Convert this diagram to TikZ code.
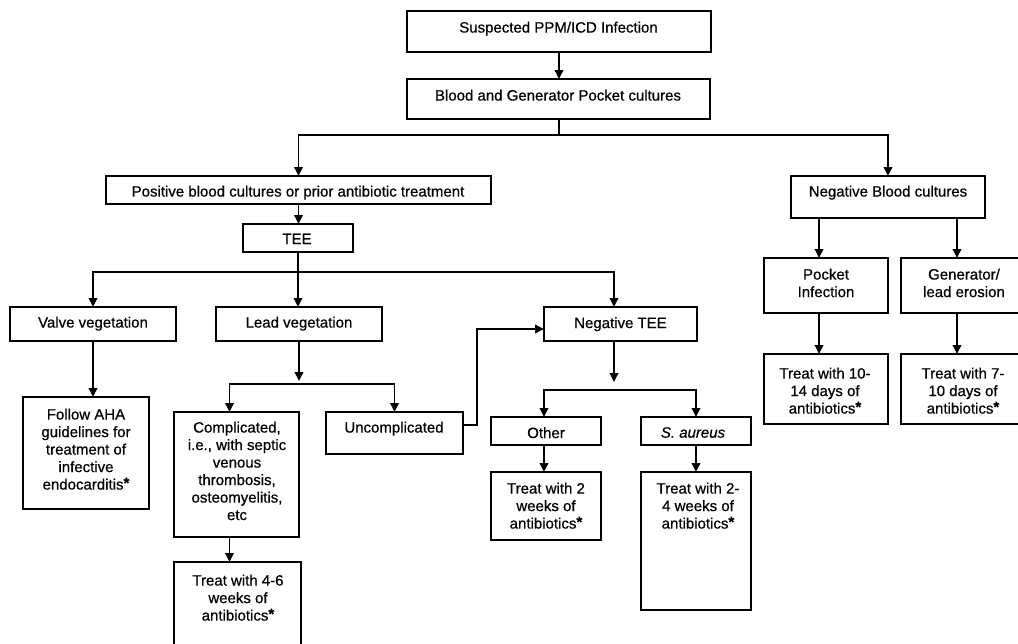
\documentclass[tikz,border=0pt]{standalone}
\usepackage{fontspec}
\setmainfont{Liberation Sans}[FakeBold=0.6]
\usetikzlibrary{arrows.meta}
\newcommand{\mkbox}[5]{\node[box, minimum width={(#4-#2)*1pt}, minimum height={(#5-#3)*1pt}] (#1) at ({(#2+#4)/2},{(#3+#5)/2}) {};}
\newcommand{\myast}{\raisebox{1.5pt}{\bfseries *}}
\begin{document}
\begin{tikzpicture}[x=1pt,y=-1pt,
  box/.style={draw, line width=2.6pt, inner sep=0pt, outer sep=0pt},
  txt/.style={anchor=north, inner sep=0pt, align=center, font=\fontsize{15}{17.5}\selectfont},
  conn/.style={line width=1.8pt},
  arr/.style={conn, -{Triangle[length=9pt,width=8.5pt]}}]
\useasboundingbox (0,0) rectangle (1018,643);
\clip (0,0) rectangle (1018,643);
% boxes
\mkbox{sus}{407}{11}{711}{52}
\mkbox{blood}{407}{79}{710}{119}
\mkbox{pos}{106}{176}{491}{204}
\mkbox{tee}{243}{224}{353}{252}
\mkbox{negb}{791}{176}{985}{218}
\mkbox{valve}{10}{307}{176}{341}
\mkbox{lead}{216}{307}{382}{341}
\mkbox{negtee}{544}{307}{697}{341}
\mkbox{pocket}{764}{258}{888}{313}
\mkbox{gen}{901}{258}{1025}{313}
\mkbox{tten}{764}{354}{888}{424}
\mkbox{tseven}{901}{354}{1025}{424}
\mkbox{aha}{23}{397}{149}{509}
\mkbox{comp}{174}{412}{299}{537}
\mkbox{tfour}{174}{562}{301}{652}
\mkbox{uncomp}{326}{412}{463}{454}
\mkbox{other}{491}{417}{601}{445}
\mkbox{saur}{641}{417}{751}{445}
\mkbox{ttwo}{491}{472}{601}{540}
\mkbox{ttwofour}{641}{472}{751}{610}
% texts
\node[txt] (sus-t) at (558.5,21.5) {Suspected PPM/ICD Infection};
\node[txt] (blood-t) at (558,89.5) {Blood and Generator Pocket cultures};
\node[txt] (pos-t) at (298,185.5) {Positive blood cultures or prior antibiotic treatment};
\node[txt] (tee-t) at (297,233.5) {TEE};
\node[txt] (negb-t) at (888,185.5) {Negative Blood cultures};
\node[txt] (valve-t) at (93,316.5) {Valve vegetation};
\node[txt] (lead-t) at (299,316.5) {Lead vegetation};
\node[txt] (negtee-t) at (620.5,317) {Negative TEE};
\node[txt] (pocket-t) at (826,268.5) {Pocket\\Infection};
\node[txt] (gen-t) at (964,268.5) {Generator/\\lead erosion};
\node[txt] (tten-t) at (825,367.5) {Treat with 10-\\14 days of\\antibiotics\myast};
\node[txt] (tseven-t) at (963,367.5) {Treat with 7-\\10 days of\\antibiotics\myast};
\node[txt] (aha-t) at (86,408.5) {Follow AHA\\guidelines for\\treatment of\\infective\\endocarditis\myast};
\node[txt] (comp-t) at (237,421.5) {Complicated,\\i.e., with septic\\venous\\thrombosis,\\osteomyelitis,\\etc};
\node[txt] (tfour-t) at (238,574.5) {Treat with 4-6\\weeks of\\antibiotics\myast};
\node[txt] (uncomp-t) at (394,421.5) {Uncomplicated};
\node[txt] (other-t) at (546,427) {Other};
\node[txt] (saur-t) at (693,427) {\itshape S. aureus};
\node[txt] (ttwo-t) at (546,482.5) {Treat with 2\\weeks of\\antibiotics\myast};
\node[txt] (ttwofour-t) at (698,482.5) {Treat with 2-\\4 weeks of\\antibiotics\myast};
% connectors
\coordinate (j1) at (559,135);
\coordinate (j2) at (298,272);
\coordinate (j3) at (299,384);
\coordinate (j4) at (614,390);
\coordinate (k1) at (477,329);
\draw[arr] (sus.south) -- (sus.south |- blood.north);
\draw[conn] (j1 |- blood.south) -- (j1);
\draw[arr] (j1) -| (pos.north);
\draw[arr] (j1) -| (negb.north);
\draw[arr] (pos.south) -- (pos.south |- tee.north);
\draw[conn] (tee.south) -- (j2);
\draw[arr] (j2) -| (valve.north);
\draw[arr] (j2) -- (j2 |- lead.north);
\draw[arr] (j2) -| ([xshift=-6.5pt]negtee.north);
\draw[arr] (valve.south) -- (valve.south |- aha.north);
\draw[arr] (j3 |- lead.south) -- ([yshift=3pt]j3);
\draw[arr] (j3) -| ([xshift=-7pt]comp.north);
\draw[arr] (j3) -| (uncomp.north);
\draw[arr] ([xshift=-7pt]comp.south) -- ([xshift=-7pt]comp.south |- tfour.north);
\draw[arr] ([yshift=8pt]uncomp.east) -| (k1) -- (k1 -| negtee.west);
\draw[arr] (j4 |- negtee.south) -- ([yshift=8pt]j4);
\draw[arr] (j4) -| ([xshift=-2pt]other.north);
\draw[arr] (j4) -| (saur.north);
\draw[arr] ([xshift=-2pt]other.south) -- ([xshift=-2pt]other.south |- ttwo.north);
\draw[arr] (saur.south) -- (saur.south |- ttwofour.north);
\draw[arr] ([xshift=-7pt]pocket.north |- negb.south) -- ([xshift=-7pt]pocket.north);
\draw[arr] ([xshift=-6pt]gen.north |- negb.south) -- ([xshift=-6pt]gen.north);
\draw[arr] ([xshift=-7pt]pocket.south) -- ([xshift=-7pt]pocket.south |- tten.north);
\draw[arr] ([xshift=-6pt]gen.south) -- ([xshift=-6pt]gen.south |- tseven.north);
\end{tikzpicture}
\end{document}
